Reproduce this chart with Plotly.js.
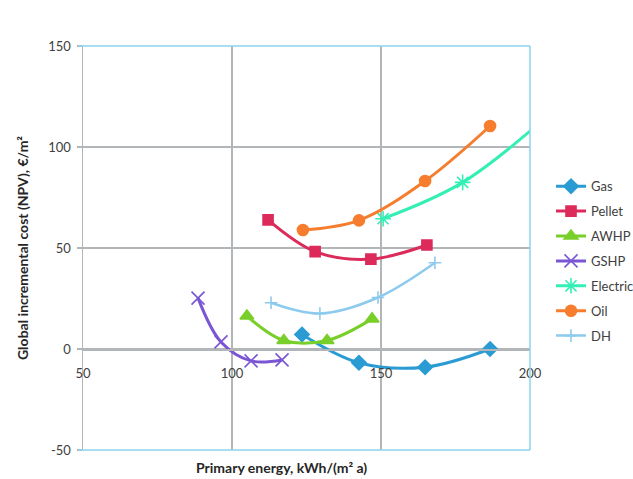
<!DOCTYPE html>
<html>
<head>
<meta charset="utf-8">
<script src="https://cdn.plot.ly/plotly-3.0.1.min.js"></script>
<style>html,body{margin:0;padding:0;background:#fff;}#chart{width:633px;height:479px;}</style>
</head>
<body>
<div id="chart"></div>
<script>
const seriesNames = ["Gas", "Pellet", "AWHP", "GSHP", "Electric", "Oil", "DH"];
const gasX = [123.5, 142.6, 164.8, 186.6];
const gasY = [7.2, -6.8, -9.0, 0.0];
const pelletX = [112.1, 127.9, 146.6, 165.4];
const pelletY = [63.9, 48.2, 44.5, 51.5];
const awhpX = [105.0, 117.4, 131.9, 147.0];
const awhpY = [16.3, 4.2, 4.2, 14.9];
const gshpX = [88.6, 96.3, 106.4, 116.8];
const gshpY = [25.2, 3.5, -5.9, -5.4];
const electricX = [150.7, 177.4, 208.0];
const electricY = [64.5, 82.5, 118.0];
const oilX = [123.8, 142.6, 164.8, 186.6];
const oilY = [58.9, 63.7, 83.2, 110.4];
const dhX = [113.1, 129.5, 149.0, 168.1];
const dhY = [22.9, 17.6, 25.5, 42.7];
const xTicks = [50, 100, 150, 200];
const yTicks = [-50, 0, 50, 100, 150];

const colors = ["#2a9bd3", "#dc2a5a", "#79cf2a", "#7a55d4", "#33efb4", "#f77d2e", "#8dcbee"];
const symbols = ["diamond", "square", "triangle-up", "x-thin-open", "asterisk-open", "circle", "cross-thin-open"];
const sizes = [11, 10, 12, 13, 13, 11, 9];
const widths = [3, 3, 3, 3, 3, 3, 2.5];
const xs = [gasX, pelletX, awhpX, gshpX, electricX, oilX, dhX];
const ys = [gasY, pelletY, awhpY, gshpY, electricY, oilY, dhY];

const traces = seriesNames.map((n, i) => ({
  type: "scatter",
  mode: "lines+markers",
  name: n,
  x: xs[i],
  y: ys[i],
  legendgroup: "g" + i,
  line: {color: colors[i], width: widths[i], shape: "spline"},
  marker: {color: colors[i], symbol: symbols[i], size: sizes[i], line: {color: colors[i], width: 1.6}}
}));

const font = "Lato, 'Open Sans', sans-serif";
const gridColor = "#b3b6b8";
const borderColor = "#8ad3ee";

const layout = {
  width: 633, height: 479,
  margin: {l: 83, r: 103, t: 46, b: 29, pad: 0, autoexpand: false},
  paper_bgcolor: "#fff", plot_bgcolor: "#fff",
  font: {family: font, size: 13, color: "#404040"},
  showlegend: true,
  legend: {x: 1.047, y: 0.69, xanchor: "left", yanchor: "top", tracegroupgap: 5,
           font: {family: font, size: 13, color: "#404040"}, itemwidth: 30, bgcolor: "rgba(0,0,0,0)"},
  xaxis: {range: [50, 200], tickvals: xTicks, ticktext: xTicks.map(String), anchor: "free", position: 0.25,
          showgrid: true, gridcolor: gridColor, gridwidth: 1.5, zeroline: false,
          showline: true, linecolor: gridColor, linewidth: 1.5, ticks: "", ticklabelstandoff: 12,
          tickfont: {family: font, size: 13, color: "#404040"}},
  yaxis: {range: [-50, 150], tickvals: yTicks, ticktext: yTicks.map(String),
          showgrid: true, gridcolor: gridColor, gridwidth: 1.5, zeroline: false,
          showline: true, linecolor: gridColor, linewidth: 1.5, ticks: "outside", ticklen: 5,
          tickcolor: gridColor, tickwidth: 1.5, ticklabelstandoff: 3,
          tickfont: {family: font, size: 13, color: "#404040"},
          title: {text: "<b>Global incremental cost (NPV), €/m²</b>", font: {family: font, size: 14, color: "#262626"}, standoff: 16}},
  shapes: [
    {type: "line", xref: "paper", yref: "paper", x0: -0.011, x1: 1, y0: 1, y1: 1, line: {color: borderColor, width: 1.5}},
    {type: "line", xref: "paper", yref: "paper", x0: -0.011, x1: 1, y0: 0, y1: 0, line: {color: borderColor, width: 1.5}},
    {type: "line", xref: "paper", yref: "paper", x0: 1, x1: 1, y0: 0, y1: 1, line: {color: borderColor, width: 1.5}}
  ],
  annotations: [
    {text: "<b>Primary energy, kWh/(m² a)</b>", xref: "paper", yref: "paper", x: (281 - 83) / 447, y: 0, yshift: -17,
     xanchor: "center", yanchor: "middle", showarrow: false, font: {family: font, size: 14, color: "#262626"}}
  ]
};

Plotly.newPlot("chart", traces, layout, {displayModeBar: false, staticPlot: true});
</script>
</body>
</html>
